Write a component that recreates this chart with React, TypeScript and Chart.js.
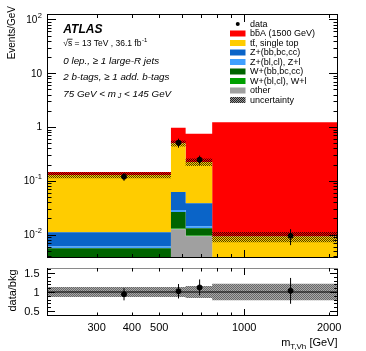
import React, { useEffect, useRef } from 'react';
import { Chart, registerables } from 'chart.js';

Chart.register(...registerables);

const FONT = '"Liberation Sans", Arial, Helvetica, sans-serif';

// ---- binning (m_T,Vh in GeV) ----
const binEdges = [200, 550, 620, 770, 2150];

// ---- stacked components, Events/GeV, bottom to top ----
const otherVals = [0.002, 0.0126, 0.0093, 0.0003];
const wblVals = [0.0005, 0.0004, 0.0003, 0.0001];
const wbbVals = [0.0031, 0.0134, 0.0035, 0.0004];
const zblVals = [0.0004, 0.0024, 0.0012, 0.0002];
const zbbVals = [0.0051, 0.0333, 0.0241, 0.0008];
const ttVals = [0.117, 0.437, 0.185, 0.0074];
const sigVals = [0.0176, 0.467, 0.525, 1.218];
const bkgRelUnc = [0.13, 0.13, 0.16, 0.22];

// ---- data ----
const dataX = [375, 585, 695, 1460];
const dataY = [0.119, 0.51, 0.247, 0.0095];
const dataRelErr = [0.16, 0.19, 0.19, 0.33];
const ratioY = [0.94, 1.02, 1.12, 1.03];
const ratioErr = [0.16, 0.19, 0.21, 0.34];

// ---- axes ----
const xMin = 200;
const xMax = 2150;
const yMainMin = 0.00367;
const yMainMax = 126.5;
const yRatioMin = 0.368;
const yRatioMax = 1.632;

const xTickVals = [200, 300, 400, 500, 600, 700, 800, 900, 1000, 2000];
const xMajorTicks = [1000];
const xLabelVals = [300, 400, 500, 1000, 2000];
const xLabelText = ['300', '400', '500', '1000', '2000'];
const yMainMajor = [0.01, 0.1, 1, 10, 100];
const yMainBase = ['10', '10', '1', '10', '10'];
const yMainSup = ['-2', '-1', '', '', '2'];
const yRatioMajor = [0.5, 1, 1.5];
const yRatioLabels = ['0.5', '1', '1.5'];
const yRatioMinor = [0.4, 0.6, 0.7, 0.8, 0.9, 1.1, 1.2, 1.3, 1.4, 1.6];

const legendLabels = [
  'data',
  'bb\u0304A (1500 GeV)',
  'tt\u0304, single top',
  'Z+(bb,bc,cc)',
  'Z+(bl,cl), Z+l',
  'W+(bb,bc,cc)',
  'W+(bl,cl), W+l',
  'other',
  'uncertainty',
];

const colOther = '#a0a0a0';
const colWbl = '#00a000';
const colWbb = '#006400';
const colZbl = '#40a0ff';
const colZbb = '#0a64c8';
const colTt = '#ffcc00';
const colSig = '#ff0000';
const legendColors = [colSig, colTt, colZbb, colZbl, colWbb, colWbl, colOther];

function yMinorTicks(): number[] {
  const out: number[] = [];
  for (let e = -3; e <= 2; e++) {
    for (let m = 2; m <= 9; m++) {
      const v = m * Math.pow(10, e);
      if (v > yMainMin && v < yMainMax) out.push(v);
    }
  }
  return out;
}

function histPoints(vals: number[]) {
  const pts = vals.map((v, i) => ({ x: binEdges[i], y: v }));
  pts.push({ x: binEdges[binEdges.length - 1], y: vals[vals.length - 1] });
  return pts;
}

function makePattern(ctx: CanvasRenderingContext2D, a: string, b: string | null) {
  const c = document.createElement('canvas');
  c.width = 2;
  c.height = 2;
  const p = c.getContext('2d')!;
  if (b) {
    p.fillStyle = b;
    p.fillRect(0, 0, 2, 2);
  }
  p.fillStyle = a;
  p.fillRect(0, 0, 1, 1);
  p.fillRect(1, 1, 1, 1);
  return ctx.createPattern(c, 'repeat')!;
}

function drawText(ctx: CanvasRenderingContext2D, s: string, x: number, y: number, font: string, align: CanvasTextAlign = 'left') {
  ctx.font = font;
  ctx.textAlign = align;
  ctx.textBaseline = 'middle';
  ctx.fillStyle = '#000';
  ctx.fillText(s, x, y);
}

const DATA_IDX = 9;

export default function App() {
  const mainRef = useRef<HTMLCanvasElement>(null);
  const ratioRef = useRef<HTMLCanvasElement>(null);

  useEffect(() => {
    const mc = mainRef.current!;
    const rc = ratioRef.current!;
    const mctx = mc.getContext('2d')!;
    const rctx = rc.getContext('2d')!;
    const hatchMain = makePattern(mctx, 'rgba(0,0,0,0.7)', null);
    const hatchLegend = makePattern(mctx, 'rgba(0,0,0,0.75)', '#9a9a9a');
    const hatchRatio = makePattern(rctx, '#686868', '#a8a8a8');

    // cumulative stack
    const comps = [otherVals, wblVals, wbbVals, zblVals, zbbVals, ttVals, sigVals];
    const colors = [colOther, colWbl, colWbb, colZbl, colZbb, colTt, colSig];
    const cum: number[][] = [];
    comps.forEach((c, k) => {
      cum.push(c.map((v, i) => v + (k > 0 ? cum[k - 1][i] : 0)));
    });
    const bkgTot = cum[5];

    const stackSets = cum.map((vals, k) => ({
      label: 'stack' + k,
      data: histPoints(vals),
      stepped: true,
      fill: k === 0 ? 'start' : '-1',
      backgroundColor: colors[k],
      borderColor: 'rgba(0,0,0,0)',
      borderWidth: 0,
      pointRadius: 0,
      order: 10,
    }));

    const yMinor = yMinorTicks();

    const mainDeco = {
      id: 'mainDeco',
      beforeDatasetDraw(chart: any, args: any) {
        if (args.index !== DATA_IDX) return;
        const { ctx } = chart;
        const xs = chart.scales.x;
        const ys = chart.scales.y;
        ctx.save();
        ctx.strokeStyle = '#000';
        ctx.lineWidth = 1;
        ctx.beginPath();
        dataX.forEach((xv, i) => {
          const px = xs.getPixelForValue(xv);
          ctx.moveTo(px, ys.getPixelForValue(dataY[i] * (1 - dataRelErr[i])));
          ctx.lineTo(px, ys.getPixelForValue(dataY[i] * (1 + dataRelErr[i])));
        });
        ctx.stroke();
        ctx.restore();
      },
      afterDraw(chart: any) {
        const { ctx, chartArea: a } = chart;
        const xs = chart.scales.x;
        const ys = chart.scales.y;
        ctx.save();
        ctx.strokeStyle = '#000';
        ctx.lineWidth = 1;
        ctx.strokeRect(a.left + 0.5, a.top + 0.5, a.right - a.left - 1, a.bottom - a.top - 1);
        ctx.beginPath();
        yMainMajor.forEach((v) => {
          const p = Math.round(ys.getPixelForValue(v)) + 0.5;
          ctx.moveTo(a.left, p); ctx.lineTo(a.left + 9, p);
          ctx.moveTo(a.right, p); ctx.lineTo(a.right - 9, p);
        });
        yMinor.forEach((v) => {
          const p = Math.round(ys.getPixelForValue(v)) + 0.5;
          ctx.moveTo(a.left, p); ctx.lineTo(a.left + 4.5, p);
          ctx.moveTo(a.right, p); ctx.lineTo(a.right - 4.5, p);
        });
        xTickVals.forEach((v) => {
          const p = Math.round(xs.getPixelForValue(v)) + 0.5;
          const L = xMajorTicks.includes(v) ? 8 : 4;
          ctx.moveTo(p, a.bottom); ctx.lineTo(p, a.bottom - L);
          ctx.moveTo(p, a.top); ctx.lineTo(p, a.top + L);
        });
        ctx.stroke();

        // y tick labels with superscripts
        const fTick = `10px ${FONT}`;
        const fSup = `7.5px ${FONT}`;
        yMainMajor.forEach((v, i) => {
          const y = ys.getPixelForValue(v);
          const base = yMainBase[i];
          const sup = yMainSup[i];
          ctx.font = fTick;
          const wb = ctx.measureText(base).width;
          ctx.font = fSup;
          const ws = sup ? ctx.measureText(sup).width + 0.5 : 0;
          const x0 = 42 - wb - ws;
          drawText(ctx, base, x0, y + 0.5, fTick);
          if (sup) drawText(ctx, sup, x0 + wb + 0.5, y - 3.5, fSup);
        });

        // y title
        ctx.save();
        ctx.translate(12, 6);
        ctx.rotate(-Math.PI / 2);
        drawText(ctx, 'Events/GeV', 0, 0, `10px ${FONT}`, 'right');
        ctx.restore();

        // ATLAS labels
        const tx = 63.3;
        drawText(ctx, 'ATLAS', tx, 30, `italic bold 12px ${FONT}`);
        const f85 = `8.5px ${FONT}`;
        ctx.font = f85;
        const wSqrt = ctx.measureText('\u221A').width;
        const wSqrtS = ctx.measureText('\u221As').width;
        const mainS = '\u221As = 13 TeV , 36.1 fb';
        const wMain = ctx.measureText(mainS).width;
        drawText(ctx, mainS, tx, 43.5, f85);
        ctx.beginPath();
        ctx.moveTo(tx + wSqrt - 0.5, 39.2);
        ctx.lineTo(tx + wSqrtS + 0.3, 39.2);
        ctx.lineWidth = 0.8;
        ctx.stroke();
        drawText(ctx, '-1', tx + wMain + 0.5, 40.2, `6px ${FONT}`);
        const fi = `italic 9.8px ${FONT}`;
        drawText(ctx, '0 lep., \u2265 1 large-R jets', tx, 61, fi);
        drawText(ctx, '2 b-tags, \u2265 1 add. b-tags', tx, 77.7, fi);
        ctx.font = fi;
        const p1 = '75 GeV < m';
        const w1 = ctx.measureText(p1).width;
        drawText(ctx, p1, tx, 94.3, fi);
        ctx.font = `italic 7px ${FONT}`;
        const wJ = ctx.measureText(' J').width;
        drawText(ctx, ' J', tx + w1, 96.5, `italic 7px ${FONT}`);
        drawText(ctx, ' < 145 GeV', tx + w1 + wJ, 94.3, fi);

        // legend
        const legX = 230;
        const legW = 15.5;
        const legH = 6;
        const legTx = 250;
        const y0 = 24;
        const dy = 9.5;
        legendLabels.forEach((lab, i) => {
          const y = y0 + i * dy;
          if (i === 0) {
            ctx.beginPath();
            ctx.fillStyle = '#000';
            ctx.arc(legX + legW / 2, y, 2, 0, Math.PI * 2);
            ctx.fill();
          } else if (i <= 7) {
            ctx.fillStyle = legendColors[i - 1];
            ctx.fillRect(legX, y - legH / 2, legW, legH);
          } else {
            ctx.fillStyle = hatchLegend;
            ctx.fillRect(legX, y - legH / 2, legW, legH);
          }
          drawText(ctx, lab, legTx, y + 0.5, `9px ${FONT}`);
        });
        ctx.restore();
      },
    };

    const main = new Chart(mc, {
      type: 'line',
      data: {
        datasets: [
          ...stackSets,
          {
            label: 'uncUp',
            data: histPoints(bkgTot.map((v, i) => v * (1 + bkgRelUnc[i]))),
            stepped: true,
            fill: '+1',
            backgroundColor: hatchMain,
            borderColor: 'rgba(0,0,0,0)',
            borderWidth: 0,
            pointRadius: 0,
            order: 5,
          },
          {
            label: 'uncDn',
            data: histPoints(bkgTot.map((v, i) => v * (1 - bkgRelUnc[i]))),
            stepped: true,
            fill: false,
            borderColor: 'rgba(0,0,0,0)',
            borderWidth: 0,
            pointRadius: 0,
            order: 5,
          },
          {
            label: 'data',
            data: dataX.map((x, i) => ({ x, y: dataY[i] })),
            showLine: false,
            pointRadius: 2.5,
            pointBorderWidth: 1,
            pointBackgroundColor: '#000',
            pointBorderColor: '#000',
            order: 0,
          },
        ] as any,
      },
      options: {
        animation: false,
        responsive: false,
        maintainAspectRatio: false,
        events: [],
        layout: { padding: { left: 47, right: 28, top: 14, bottom: 4 } },
        plugins: { legend: { display: false }, tooltip: { enabled: false } },
        scales: {
          x: { type: 'logarithmic', min: xMin, max: xMax, display: false },
          y: { type: 'logarithmic', min: yMainMin, max: yMainMax, display: false },
        },
      } as any,
      plugins: [mainDeco],
    });

    const ratioDeco = {
      id: 'ratioDeco',
      beforeDatasetDraw(chart: any, args: any) {
        if (args.index !== 0) return;
        const { ctx } = chart;
        const xs = chart.scales.x;
        const ys = chart.scales.y;
        ctx.save();
        ctx.strokeStyle = '#000';
        ctx.lineWidth = 1;
        ctx.beginPath();
        dataX.forEach((xv, i) => {
          const px = xs.getPixelForValue(xv);
          ctx.moveTo(px, ys.getPixelForValue(ratioY[i] - ratioErr[i]));
          ctx.lineTo(px, ys.getPixelForValue(ratioY[i] + ratioErr[i]));
        });
        ctx.stroke();
        ctx.restore();
      },
      afterDraw(chart: any) {
        const { ctx, chartArea: a } = chart;
        const xs = chart.scales.x;
        const ys = chart.scales.y;
        ctx.save();
        ctx.lineWidth = 1;
        ctx.strokeStyle = '#000';
        ctx.beginPath();
        ctx.moveTo(a.left + 0.5, a.top);
        ctx.lineTo(a.left + 0.5, a.bottom - 0.5);
        ctx.lineTo(a.right - 0.5, a.bottom - 0.5);
        ctx.lineTo(a.right - 0.5, a.top);
        ctx.stroke();
        ctx.strokeStyle = '#8a8a8a';
        ctx.beginPath();
        ctx.moveTo(a.left, a.top + 0.5);
        ctx.lineTo(a.right, a.top + 0.5);
        ctx.stroke();
        ctx.strokeStyle = '#000';
        ctx.beginPath();
        yRatioMajor.forEach((v) => {
          const p = Math.round(ys.getPixelForValue(v)) + 0.5;
          ctx.moveTo(a.left, p); ctx.lineTo(a.left + 8, p);
          ctx.moveTo(a.right, p); ctx.lineTo(a.right - 8, p);
        });
        yRatioMinor.forEach((v) => {
          const p = Math.round(ys.getPixelForValue(v)) + 0.5;
          ctx.moveTo(a.left, p); ctx.lineTo(a.left + 4, p);
          ctx.moveTo(a.right, p); ctx.lineTo(a.right - 4, p);
        });
        xTickVals.forEach((v) => {
          const p = Math.round(xs.getPixelForValue(v)) + 0.5;
          const L = xMajorTicks.includes(v) ? 7 : 3.5;
          ctx.moveTo(p, a.bottom); ctx.lineTo(p, a.bottom - L);
          ctx.moveTo(p, a.top); ctx.lineTo(p, a.top + L);
        });
        ctx.stroke();

        const f11 = `11px ${FONT}`;
        yRatioMajor.forEach((v, i) => {
          drawText(ctx, yRatioLabels[i], 39.5, ys.getPixelForValue(v) + 0.5, f11, 'right');
        });
        xLabelVals.forEach((v, i) => {
          drawText(ctx, xLabelText[i], xs.getPixelForValue(v), 66, f11, 'center');
        });

        // y title
        ctx.save();
        ctx.translate(12.5, 28.5);
        ctx.rotate(-Math.PI / 2);
        drawText(ctx, 'data/bkg', 0, 0, f11, 'center');
        ctx.restore();

        // x title m_{T,Vh} [GeV]
        ctx.font = f11;
        const wm = ctx.measureText('m').width;
        const wg = ctx.measureText(' [GeV]').width;
        ctx.font = `8px ${FONT}`;
        const ws = ctx.measureText('T,Vh').width;
        const xr = 337.5;
        const x0 = xr - wg - ws - wm;
        drawText(ctx, 'm', x0, 80.5, f11);
        drawText(ctx, 'T,Vh', x0 + wm, 84.5, `8px ${FONT}`);
        drawText(ctx, ' [GeV]', x0 + wm + ws, 80.5, f11);
        ctx.restore();
      },
    };

    const ratio = new Chart(rc, {
      type: 'line',
      data: {
        datasets: [
          {
            label: 'ratio',
            data: dataX.map((x, i) => ({ x, y: ratioY[i] })),
            showLine: false,
            pointRadius: 2.5,
            pointBorderWidth: 1,
            pointBackgroundColor: '#000',
            pointBorderColor: '#000',
            order: 0,
          },
          {
            label: 'one',
            data: [{ x: xMin, y: 1 }, { x: xMax, y: 1 }],
            borderColor: '#000',
            borderWidth: 1.2,
            pointRadius: 0,
            fill: false,
            order: 1,
          },
          {
            label: 'bandUp',
            data: histPoints(bkgRelUnc.map((u) => 1 + u)),
            stepped: true,
            fill: '+1',
            backgroundColor: hatchRatio,
            borderColor: 'rgba(0,0,0,0)',
            borderWidth: 0,
            pointRadius: 0,
            order: 2,
          },
          {
            label: 'bandDn',
            data: histPoints(bkgRelUnc.map((u) => 1 - u)),
            stepped: true,
            fill: false,
            borderColor: 'rgba(0,0,0,0)',
            borderWidth: 0,
            pointRadius: 0,
            order: 2,
          },
        ] as any,
      },
      options: {
        animation: false,
        responsive: false,
        maintainAspectRatio: false,
        events: [],
        layout: { padding: { left: 47, right: 28, top: 6, bottom: 35 } },
        plugins: { legend: { display: false }, tooltip: { enabled: false } },
        scales: {
          x: { type: 'logarithmic', min: xMin, max: xMax, display: false },
          y: { type: 'linear', min: yRatioMin, max: yRatioMax, display: false },
        },
      } as any,
      plugins: [ratioDeco],
    });

    return () => {
      main.destroy();
      ratio.destroy();
    };
  }, []);

  return (
    <div style={{ position: 'absolute', left: 0, top: 0, width: 366, height: 351, background: '#fff', overflow: 'hidden' }}>
      <canvas ref={mainRef} width={366} height={263} style={{ position: 'absolute', left: 0, top: 0, width: 366, height: 263 }} />
      <canvas ref={ratioRef} width={366} height={89} style={{ position: 'absolute', left: 0, top: 262, width: 366, height: 89 }} />
    </div>
  );
}
